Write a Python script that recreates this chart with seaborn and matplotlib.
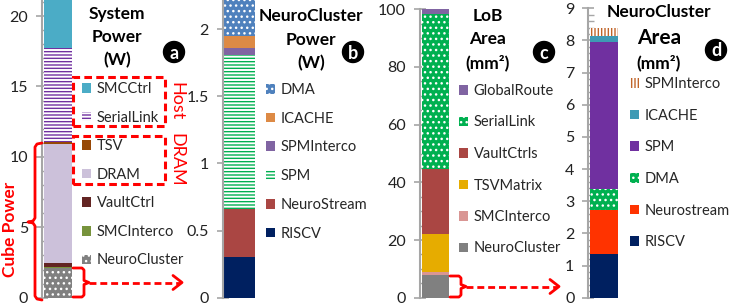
import numpy as np
import matplotlib
matplotlib.use("Agg")
import matplotlib.pyplot as plt
from matplotlib.ticker import MultipleLocator
from matplotlib.lines import Line2D
from matplotlib.patches import Rectangle, Ellipse
import seaborn as sns

sns.set_theme(style="white")
plt.rcParams["font.family"] = ["Lato", "DejaVu Sans"]
plt.rcParams["hatch.linewidth"] = 1.0

W, H = 731, 306

# ---- data (stack order bottom -> top) ----
sys_labels = ["NeuroCluster", "SMCInterco", "VaultCtrl", "DRAM", "TSV", "SerialLink", "SMCCtrl"]
sys_power = [2.1, 0.05, 0.3, 8.45, 0.15, 6.65, 4.0]
sys_colors = ["#808080", "#77933C", "#632523", "#CCC1DA", "#974806", "#FFFFFF", "#4BACC6"]
sys_hatch = ["...", None, None, None, None, "-----", None]
sys_hcol = ["white", None, None, None, None, "#7030A0", None]

nc_labels = ["RISCV", "NeuroStream", "SPM", "SPMInterco", "ICACHE", "DMA"]
nc_power = [0.305, 0.355, 1.15, 0.05, 0.09, 0.27]
nc_colors = ["#002060", "#AA4643", "#FFFFFF", "#8064A2", "#DD8A45", "#4F81BD"]
nc_hatch = [None, None, "-----", None, None, "..."]
nc_hcol = [None, None, "#00B050", None, None, "white"]

lob_labels = ["NeuroCluster", "SMCInterco", "TSVMatrix", "VaultCtrls", "SerialLink", "GlobalRoute"]
lob_area = [7.9, 1.1, 13.0, 22.5, 53.9, 1.6]
lob_colors = ["#808080", "#D99694", "#E6AC00", "#AA4643", "#00B050", "#8064A2"]
lob_hatch = [None, None, None, None, "...", None]
lob_hcol = [None, None, None, None, "white", None]

nca_labels = ["RISCV", "Neurostream", "DMA", "SPM", "ICACHE", "SPMInterco"]
nca_area = [1.36, 1.37, 0.64, 4.59, 0.18, 0.24]
nca_colors = ["#002060", "#FF3300", "#00B050", "#7030A0", "#3E9AB4", "#FFFFFF"]
nca_hatch = [None, None, "...", None, None, "|||||"]
nca_hcol = [None, None, "white", None, None, "#C0652A"]


def fx(x):
    return x / W


def fy(y):
    return 1 - y / H


fig = plt.figure(figsize=(W / 100, H / 100), dpi=100)


def stacked(rect, labels, values, colors, hatches, hcols, ylim, major, minor,
            leg_xy, spacing):
    x0, top, w, bottom = rect
    ax = fig.add_axes([fx(x0), fy(bottom), w / W, (bottom - top) / H])
    bottoms = np.concatenate([[0], np.cumsum(values)[:-1]])
    handles = []
    for lab, v, b, c, h, hc in zip(labels, values, bottoms, colors, hatches, hcols):
        bars = ax.bar(0.5, v, width=0.9, bottom=b, color=c,
                      edgecolor=hc if hc else c, hatch=h, linewidth=0, label=lab)
        handles.append(bars)
    ax.set_xlim(0, 1)
    ax.set_ylim(*ylim)
    ax.set_xticks([])
    ax.yaxis.set_major_locator(MultipleLocator(major))
    ax.yaxis.set_minor_locator(MultipleLocator(minor))
    ax.yaxis.set_major_formatter(lambda v, p: f"{v:g}")
    ax.tick_params(axis="y", which="major", direction="inout", length=8, width=1.2,
                   color="#a6a6a6", labelsize=11.5, pad=6, labelcolor="#222222", left=True)
    ax.tick_params(axis="y", which="minor", direction="in", length=4, width=1.0,
                   color="#a6a6a6", left=True)
    sns.despine(ax=ax, top=True, right=True, bottom=True)
    ax.spines["left"].set_color("#a6a6a6")
    ax.spines["left"].set_linewidth(1.5)
    ax.patch.set_alpha(0)
    ax.legend(handles[::-1], labels[::-1], loc="upper left",
              bbox_to_anchor=(fx(leg_xy[0]), fy(leg_xy[1])), bbox_transform=fig.transFigure,
              frameon=False, borderaxespad=0, borderpad=0, fontsize=10.5,
              handlelength=0.65, handleheight=0.65, handletextpad=0.35,
              labelspacing=spacing)
    return ax


stacked((42, 0, 32, 297.7), sys_labels, sys_power, sys_colors, sys_hatch, sys_hcol,
        (0, 21.14), 5, 1, (82, 82), 1.0)
stacked((222.7, 0, 34, 297.7), nc_labels, nc_power, nc_colors, nc_hatch, nc_hcol,
        (0, 2.218), 0.5, 0.1, (266, 83), 1.01)
stacked((420, 9.3, 30, 297.7), lob_labels, lob_area, lob_colors, lob_hatch, lob_hcol,
        (0, 100), 20, 5, (459, 84), 1.2)
stacked((588.3, 8.3, 31, 297.7), nca_labels, nca_area, nca_colors, nca_hatch, nca_hcol,
        (0, 9), 1, 0.2, (630, 77), 1.21)

# ---- titles (one text per line) ----
tkw = dict(ha="center", va="center", fontweight="bold", color="black")
titles = [
    (117, [("System", 14, 12.5), ("Power", 37, 12.5), ("(W)", 60, 12.5)]),
    (311, [("NeuroCluster", 16, 12.5), ("Power", 40, 12.5), ("(W)", 63, 12.5)]),
    (488, [("LoB", 16, 12.5), ("Area", 39, 12.5), ("(mm²)", 63, 12.5)]),
    (659, [("NeuroCluster", 12, 12.5), ("Area", 38, 15), ("(mm²)", 63, 12.5)]),
]
for cx, lines in titles:
    for txt, ty, fs in lines:
        fig.text(fx(cx), fy(ty), txt, fontsize=fs, **tkw)

# ---- circled letters ----
for letter, (cx, cy) in zip("abcd", [(174, 52), (353, 52), (544, 52), (716, 50)]):
    fig.add_artist(Ellipse((fx(cx), fy(cy)), 21 / W, 21 / H, transform=fig.transFigure,
                           color="black"))
    fig.text(fx(cx), fy(cy + 1), letter, ha="center", va="center", color="white",
             fontsize=13, fontweight="bold")

# ---- red annotations ----
red = "#FF0000"


def poly(pts, ls="-", lw=2.0):
    xs = [fx(p[0]) for p in pts]
    ys = [fy(p[1]) for p in pts]
    fig.add_artist(Line2D(xs, ys, color=red, lw=lw, linestyle=ls,
                          transform=fig.transFigure, solid_joinstyle="round",
                          solid_capstyle="round"))


def dbox(x0, y0, x1, y1):
    fig.add_artist(Rectangle((fx(x0), fy(y1)), (x1 - x0) / W, (y1 - y0) / H,
                             fill=False, ec=red, lw=2.2, linestyle=(0, (2.5, 1.4)),
                             transform=fig.transFigure))


dbox(73, 77, 165, 126)
dbox(73, 136, 165, 184)
fig.text(fx(176), fy(101), "Host", rotation=-90, color=red, fontsize=13,
         ha="center", va="center")
fig.text(fx(176), fy(160), "DRAM", rotation=-90, color=red, fontsize=13,
         ha="center", va="center")
fig.text(fx(10), fy(229), "Cube Power", rotation=90, color=red, fontsize=12.5,
         fontweight="bold", ha="center", va="center")

# cube power brace
poly([(42, 143), (37, 144), (35, 147), (35, 218), (33, 221), (28, 222),
      (33, 223), (35, 226), (35, 296), (37, 299), (42, 300)])

# small braces and dashed arrows to the next panel
for (xl, xb, ytop, ybot, xend) in [(73, 84, 268, 297, 182), (450, 461, 276, 297, 559)]:
    ym = (ytop + ybot) / 2
    poly([(xl, ytop), (xb - 2, ytop), (xb, ytop + 2), (xb, ym - 2), (xb + 5, ym),
          (xb, ym + 2), (xb, ybot - 2), (xb - 2, ybot), (xl, ybot)])
    poly([(xb + 5, ym), (xend - 2, ym)], ls=(0, (2.5, 1.4)))
    poly([(xend - 9, ym - 7), (xend, ym), (xend - 9, ym + 7)])

fig.savefig("out.png", dpi=100)
